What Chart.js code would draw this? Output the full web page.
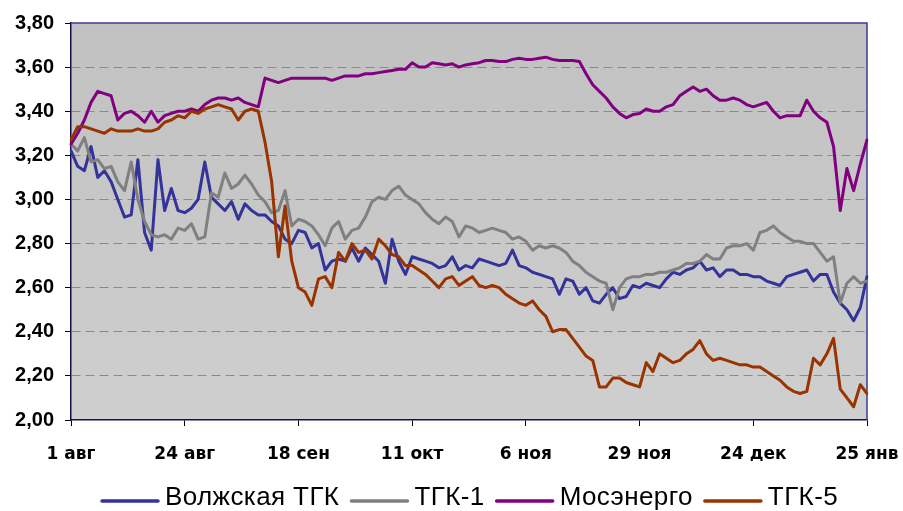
<!DOCTYPE html>
<html>
<head>
<meta charset="utf-8">
<script src="https://cdn.jsdelivr.net/npm/chart.js@4/dist/chart.umd.min.js"></script>
<style>
  html, body { margin: 0; padding: 0; background: #ffffff; }
  #wrap { width: 903px; height: 511px; position: relative; }
</style>
</head>
<body>
<div id="wrap"><canvas id="c" width="903" height="511"></canvas></div>
<script>
// Tick labels shown every 17 trading days
const tickLabels = ['1 авг', '24 авг', '18 сен', '11 окт', '6 ноя', '29 ноя', '24 дек', '25 янв'];
const TICK_STEP = 17;
const POINT_COUNT = 120;
// Category axis: trading days (label only at tick positions)
const categories = Array.from({length: POINT_COUNT}, (_, i) => (i % TICK_STEP === 0 ? tickLabels[i / TICK_STEP] : ''));

const seriesNames = ['Волжская ТГК', 'ТГК-1', 'Мосэнерго', 'ТГК-5'];

const volzhskaya = [
  3.22, 3.15, 3.13, 3.24, 3.10, 3.13, 3.08, 3.00, 2.92, 2.93,
  3.18, 2.85, 2.77, 3.18, 2.95, 3.05, 2.95, 2.94, 2.96, 3.00,
  3.17, 3.01, 2.98, 2.95, 2.99, 2.91, 2.98, 2.95, 2.93, 2.93,
  2.90, 2.88, 2.82, 2.80, 2.86, 2.85, 2.78, 2.80, 2.68, 2.72,
  2.73, 2.72, 2.78, 2.72, 2.78, 2.75, 2.72, 2.62, 2.82, 2.72,
  2.66, 2.74, 2.73, 2.72, 2.71, 2.69, 2.70, 2.74, 2.68, 2.70,
  2.69, 2.73, 2.72, 2.71, 2.70, 2.71, 2.77, 2.70, 2.69, 2.67,
  2.66, 2.65, 2.64, 2.57, 2.64, 2.63, 2.57, 2.60, 2.54, 2.53,
  2.57, 2.60, 2.55, 2.56, 2.61, 2.60, 2.62, 2.61, 2.60, 2.64,
  2.67, 2.66, 2.68, 2.69, 2.72, 2.68, 2.69, 2.65, 2.68, 2.68,
  2.66, 2.66, 2.65, 2.65, 2.63, 2.62, 2.61, 2.65, 2.66, 2.67,
  2.68, 2.63, 2.66, 2.66, 2.58, 2.53, 2.50, 2.45, 2.51, 2.65
];
const tgk1 = [
  3.25, 3.22, 3.28, 3.17, 3.18, 3.14, 3.15, 3.08, 3.04, 3.17,
  3.00, 2.90, 2.84, 2.83, 2.84, 2.82, 2.87, 2.86, 2.89, 2.82,
  2.83, 3.03, 3.01, 3.12, 3.05, 3.07, 3.11, 3.07, 3.02, 2.99,
  2.94, 2.95, 3.04, 2.88, 2.91, 2.90, 2.88, 2.84, 2.79, 2.87,
  2.90, 2.82, 2.86, 2.87, 2.92, 2.99, 3.01, 3.00, 3.04, 3.06,
  3.02, 3.00, 2.98, 2.94, 2.91, 2.89, 2.92, 2.90, 2.83, 2.88,
  2.87, 2.85, 2.86, 2.87, 2.86, 2.85, 2.82, 2.83, 2.81, 2.77,
  2.79, 2.78, 2.79, 2.78, 2.76, 2.72, 2.70, 2.67, 2.65, 2.63,
  2.62, 2.50, 2.60, 2.64, 2.65, 2.65, 2.66, 2.66, 2.67, 2.67,
  2.68, 2.69, 2.71, 2.71, 2.72, 2.75, 2.73, 2.73, 2.78, 2.79,
  2.79, 2.80, 2.77, 2.85, 2.86, 2.88, 2.85, 2.83, 2.81, 2.81,
  2.80, 2.80, 2.76, 2.72, 2.74, 2.53, 2.62, 2.65, 2.62, 2.63
];
const mosenergo = [
  3.25, 3.30, 3.36, 3.44, 3.49, 3.48, 3.47, 3.36, 3.39, 3.40,
  3.38, 3.35, 3.40, 3.35, 3.38, 3.39, 3.40, 3.40, 3.41, 3.40,
  3.43, 3.45, 3.46, 3.46, 3.45, 3.46, 3.44, 3.43, 3.42, 3.55,
  3.54, 3.53, 3.54, 3.55, 3.55, 3.55, 3.55, 3.55, 3.55, 3.54,
  3.55, 3.56, 3.56, 3.56, 3.57, 3.57, 3.575, 3.58, 3.585, 3.59,
  3.59, 3.62, 3.60, 3.60, 3.62, 3.615, 3.61, 3.615, 3.60, 3.61,
  3.615, 3.62, 3.63, 3.63, 3.625, 3.625, 3.635, 3.64, 3.635, 3.635,
  3.64, 3.645, 3.635, 3.63, 3.63, 3.63, 3.625, 3.57, 3.52, 3.49,
  3.46, 3.42, 3.39, 3.37, 3.385, 3.39, 3.41, 3.40, 3.40, 3.42,
  3.43, 3.47, 3.49, 3.51, 3.49, 3.50, 3.47, 3.45, 3.45, 3.46,
  3.45, 3.43, 3.42, 3.43, 3.44, 3.40, 3.37, 3.38, 3.38, 3.38,
  3.45, 3.40, 3.37, 3.35, 3.24, 2.95, 3.14, 3.04, 3.16, 3.27
];
const tgk5 = [
  3.27, 3.33, 3.33, 3.32, 3.31, 3.30, 3.32, 3.31, 3.31, 3.31,
  3.32, 3.31, 3.31, 3.32, 3.35, 3.36, 3.38, 3.37, 3.40, 3.39,
  3.41, 3.42, 3.43, 3.42, 3.41, 3.36, 3.40, 3.41, 3.40, 3.26,
  3.08, 2.74, 2.97, 2.72, 2.60, 2.58, 2.52, 2.64, 2.65, 2.60,
  2.76, 2.72, 2.80, 2.76, 2.77, 2.73, 2.82, 2.79, 2.75, 2.74,
  2.70, 2.70, 2.68, 2.66, 2.63, 2.60, 2.64, 2.65, 2.61, 2.63,
  2.65, 2.61, 2.60, 2.61, 2.60, 2.57, 2.55, 2.53, 2.52, 2.54,
  2.50, 2.47, 2.40, 2.41, 2.41, 2.37, 2.33, 2.29, 2.27, 2.15,
  2.15, 2.19, 2.19, 2.17, 2.16, 2.15, 2.26, 2.22, 2.30, 2.28,
  2.26, 2.27, 2.30, 2.32, 2.36, 2.30, 2.27, 2.28, 2.27, 2.26,
  2.25, 2.25, 2.24, 2.24, 2.22, 2.20, 2.18, 2.15, 2.13, 2.12,
  2.13, 2.28, 2.25, 2.30, 2.37, 2.14, 2.10, 2.06, 2.16, 2.12
];

const seriesValues = [volzhskaya, tgk1, mosenergo, tgk5];
const seriesColors = ['#333399', '#808080', '#800080', '#993300'];

const FONT = '"Liberation Sans", Arial, sans-serif';

const bgPlugin = {
  id: 'plotBg',
  beforeDraw(chart) {
    const {ctx, chartArea: a} = chart;
    ctx.save();
    ctx.fillStyle = '#ffffff';
    ctx.fillRect(0, 0, chart.width, chart.height);
    const g = ctx.createLinearGradient(0, a.top, 0, a.bottom);
    g.addColorStop(0, '#c1c1c1');
    g.addColorStop(1, '#cfcfcf');
    ctx.fillStyle = g;
    ctx.fillRect(a.left, a.top, a.right - a.left, a.bottom - a.top);
    ctx.restore();
  },
  beforeDatasetsDraw(chart) {
    const {ctx, chartArea: a} = chart;
    ctx.save();
    ctx.strokeStyle = '#3a3a95';
    ctx.lineWidth = 1.5;
    ctx.beginPath();
    ctx.moveTo(a.left, a.top);
    ctx.lineTo(a.right, a.top);
    ctx.lineTo(a.right, a.bottom);
    ctx.stroke();
    ctx.restore();
  }
};

const legendPlugin = {
  id: 'lineLegend',
  afterDraw(chart) {
    const {ctx} = chart;
    const ds = chart.data.datasets;
    const lineLen = 60, gapText = 5, gapItem = 10;
    ctx.save();
    ctx.font = '26px ' + FONT;
    try { ctx.letterSpacing = '0.4px'; } catch (e) {}
    const widths = ds.map(d => ctx.measureText(d.label).width);
    let x = 100;
    const yText = 498, yLine = 501;
    ds.forEach((d, i) => {
      ctx.strokeStyle = d.borderColor;
      ctx.lineWidth = 3.5;
      ctx.lineCap = 'round';
      ctx.beginPath();
      ctx.moveTo(x + 2, yLine);
      ctx.lineTo(x + lineLen - 2, yLine);
      ctx.stroke();
      x += lineLen + gapText;
      ctx.fillStyle = '#000000';
      ctx.textBaseline = 'middle';
      ctx.textAlign = 'left';
      ctx.fillText(d.label, x, yText);
      x += widths[i] + gapItem;
    });
    ctx.restore();
  }
};

new Chart(document.getElementById('c'), {
  type: 'line',
  data: {
    labels: categories,
    datasets: seriesNames.map((name, k) => ({
      label: name,
      data: seriesValues[k],
      borderColor: seriesColors[k],
      backgroundColor: seriesColors[k],
      borderWidth: 3,
      pointRadius: 0,
      tension: 0,
      fill: false,
      borderJoinStyle: 'round',
      borderCapStyle: 'round',
      order: seriesNames.length - k
    }))
  },
  options: {
    responsive: false,
    animation: false,
    devicePixelRatio: 1,
    layout: { padding: { left: 0, right: 36, top: 22, bottom: 50 } },
    plugins: {
      legend: { display: false },
      tooltip: { enabled: false }
    },
    scales: {
      x: {
        type: 'category',
        offset: false,
        afterBuildTicks(scale) {
          scale.ticks = scale.ticks.filter(t => t.value % TICK_STEP === 0);
        },
        afterFit(scale) {
          scale.height = 41;
          scale.paddingLeft = 0;
          scale.paddingRight = 0;
        },
        ticks: {
          autoSkip: false,
          maxRotation: 0,
          minRotation: 0,
          padding: 18,
          color: '#000000',
          font: { family: '"DejaVu Sans", sans-serif', size: 17, weight: 'bold' }
        },
        grid: {
          drawOnChartArea: false,
          drawTicks: true,
          tickLength: 6,
          tickColor: '#000000',
          tickWidth: 1,
          color: '#000000'
        },
        border: { display: true, color: '#10104a', width: 1.5 }
      },
      y: {
        min: 2.0,
        max: 3.8,
        afterFit(scale) { scale.width = 71; },
        ticks: {
          stepSize: 0.2,
          padding: 11,
          color: '#000000',
          font: { family: FONT, size: 20, weight: 'bold' },
          callback: v => Number(v).toFixed(2).replace('.', ',')
        },
        grid: {
          drawTicks: true,
          tickLength: 6,
          tickColor: '#000000',
          tickWidth: 1,
          lineWidth: 1,
          color: c => {
            const v = c.tick ? Math.round(c.tick.value * 100) : 0;
            return (v === 200 || v === 380) ? 'rgba(0,0,0,0)' : '#8a8a8a';
          }
        },
        border: { display: true, color: '#10104a', width: 1.5, dash: [9, 5] }
      }
    }
  },
  plugins: [bgPlugin, legendPlugin]
});
</script>
</body>
</html>
